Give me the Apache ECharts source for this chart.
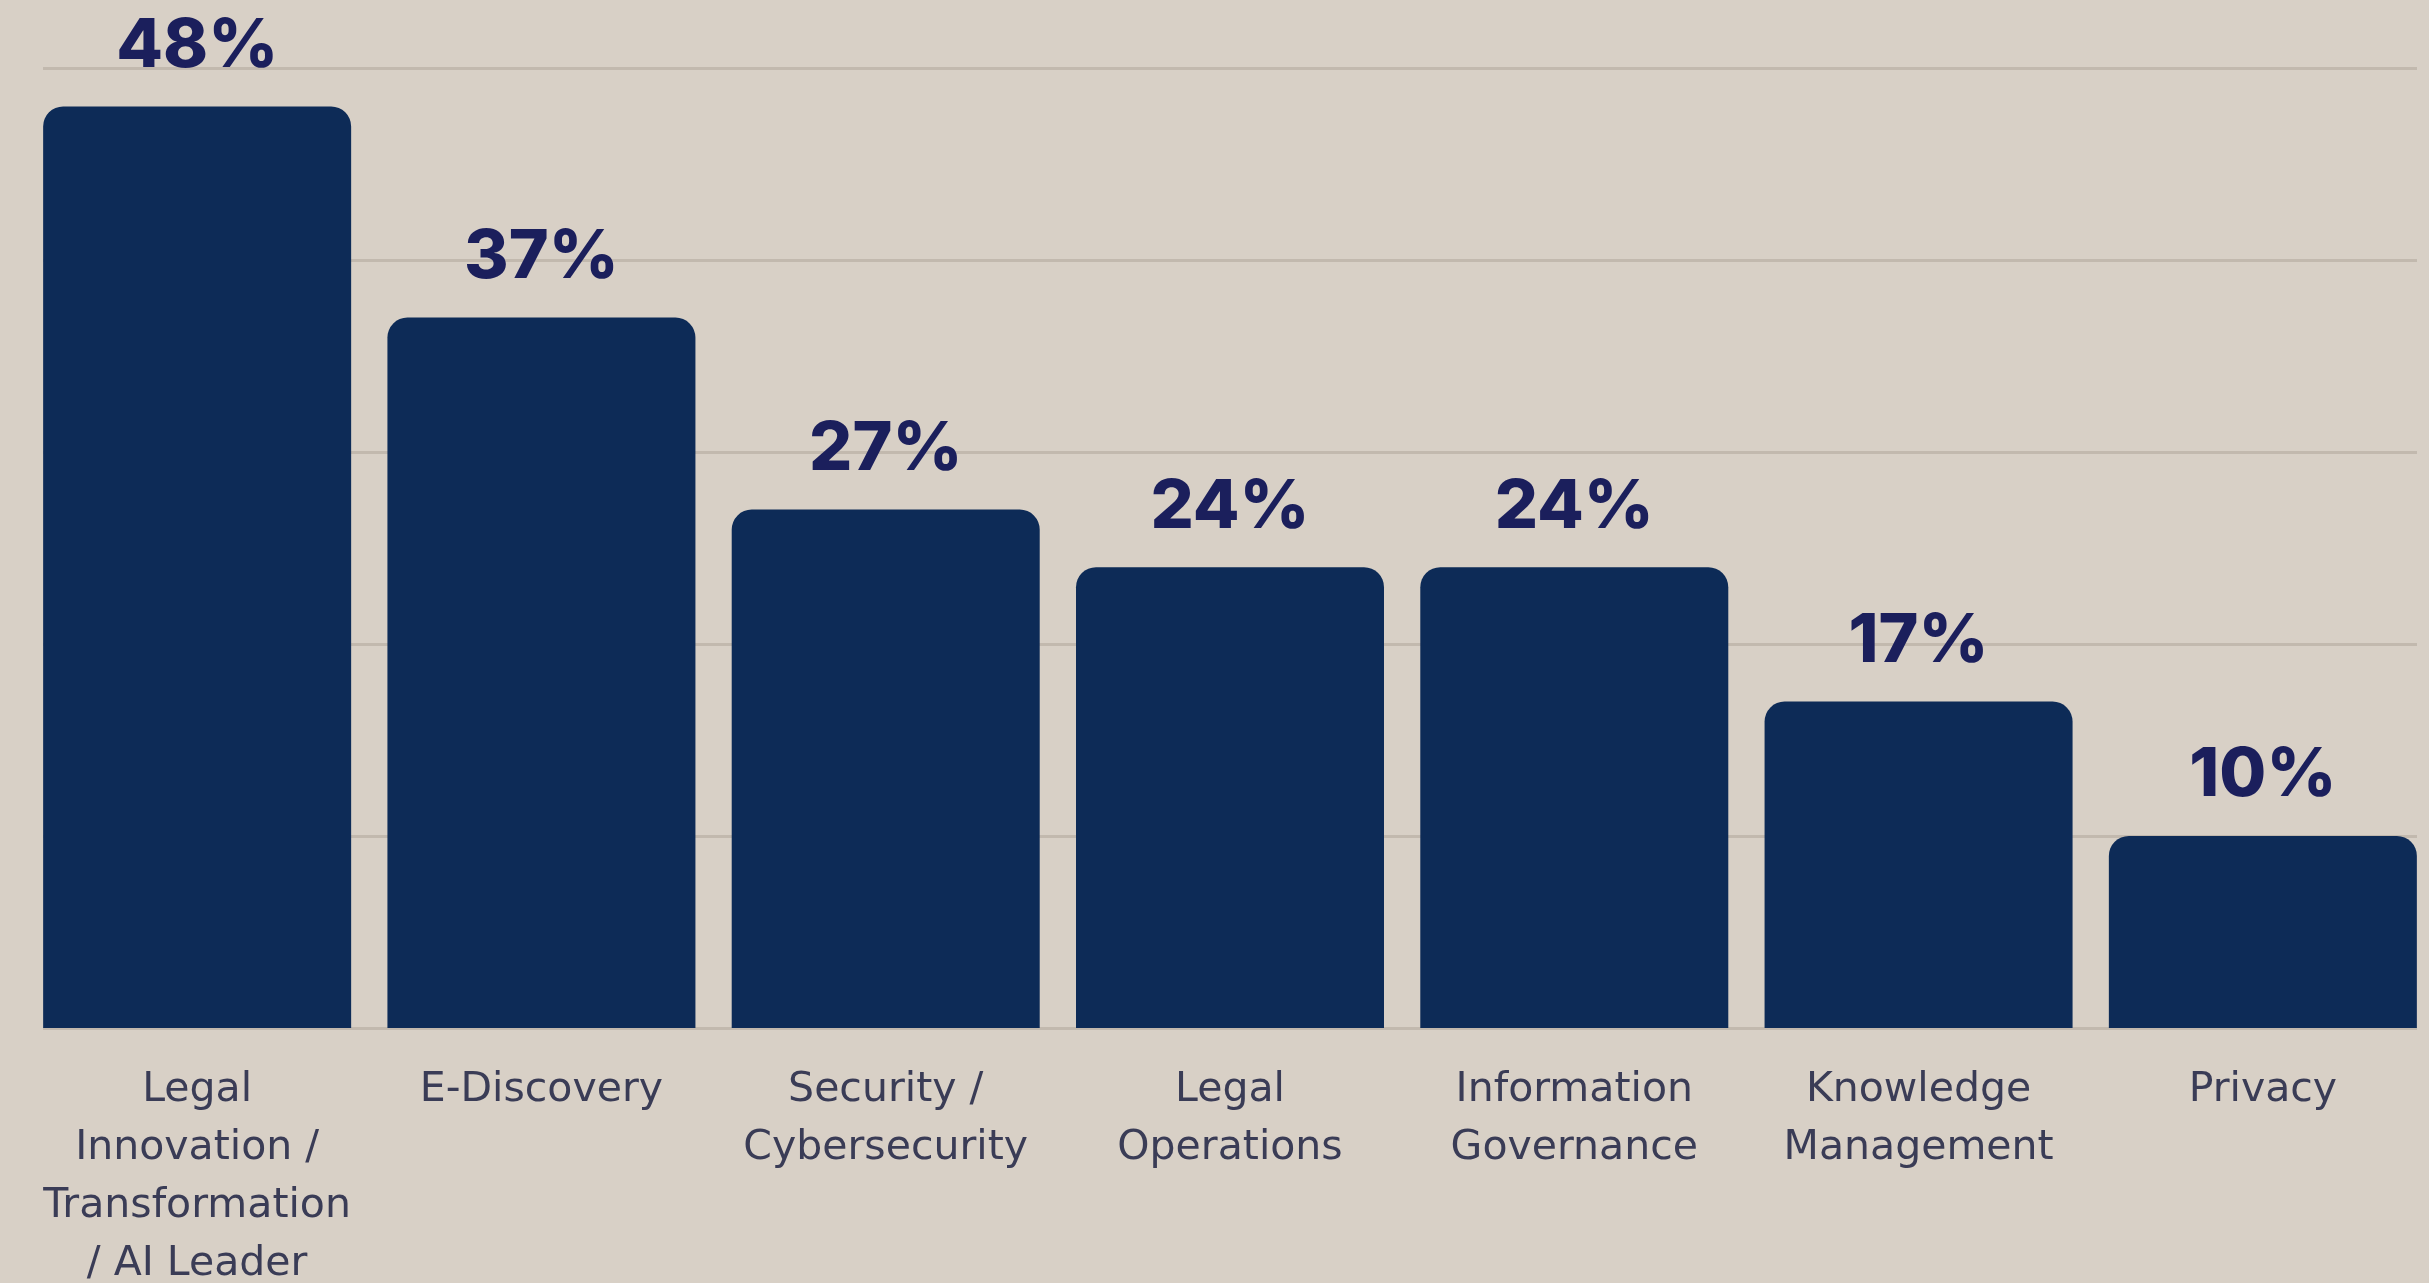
<!DOCTYPE html>
<html>
<head>
<meta charset="utf-8">
<script src="https://cdn.jsdelivr.net/npm/echarts@6/dist/echarts.min.js"></script>
<style>
html,body{margin:0;padding:0;background:#d8d0c6;}
#chart{width:2429px;height:1283px;}
</style>
</head>
<body>
<div id="chart"></div>
<script>
const categories = [
  "Legal\nInnovation /\nTransformation\n/ AI Leader",
  "E-Discovery",
  "Security /\nCybersecurity",
  "Legal\nOperations",
  "Information\nGovernance",
  "Knowledge\nManagement",
  "Privacy"
];
const values = [48, 37, 27, 24, 24, 17, 10];
const yTicks = [0, 10, 20, 30, 40, 50];

const chart = echarts.init(document.getElementById('chart'));
chart.setOption({
  backgroundColor: '#d8d0c6',
  animation: false,
  grid: [
    {left: 25, width: 2410, top: 68, bottom: 255, containLabel: false, outerBoundsMode: 'none'},
    {left: 43, width: 2374, top: 68, bottom: 255, containLabel: false, outerBoundsMode: 'none'}
  ],
  xAxis: [
    {
      type: 'category', gridIndex: 0, data: categories,
      axisLine: {show: false}, axisTick: {show: false},
      axisLabel: {
        interval: 0, margin: 33, color: '#3a3c56',
        fontFamily: 'DejaVu Sans', fontWeight: 'normal', fontSize: 41, lineHeight: 58
      }
    },
    {type: 'value', gridIndex: 1, min: 0, max: 1, show: false}
  ],
  yAxis: [
    {type: 'value', gridIndex: 0, min: yTicks[0], max: yTicks[yTicks.length - 1], interval: 10,
     show: false, splitLine: {show: false}},
    {type: 'value', gridIndex: 1, min: yTicks[0], max: yTicks[yTicks.length - 1], interval: 10,
     axisLine: {show: false}, axisTick: {show: false}, axisLabel: {show: false},
     splitLine: {show: true, lineStyle: {color: '#c2b9ae', width: 3}}}
  ],
  series: [{
    type: 'bar', xAxisIndex: 0, yAxisIndex: 0, data: values,
    barWidth: 308, z: 5,
    itemStyle: {color: '#0d2b57', borderRadius: [20, 20, 0, 0]},
    label: {
      show: true, position: 'top', distance: 26,
      formatter: '{c}%', color: '#1b1f5c',
      fontFamily: 'Inter', fontWeight: 800, fontSize: 68
    }
  }]
});
</script>
</body>
</html>
